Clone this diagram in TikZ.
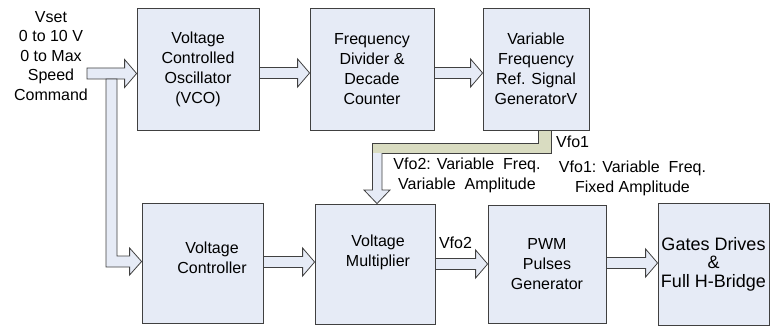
\documentclass[tikz,border=0pt]{standalone}
\usepackage{fontspec}
\setmainfont{Liberation Sans}
\usetikzlibrary{calc}
\definecolor{boxfill}{RGB}{230,235,246}
\definecolor{olivefill}{RGB}{217,220,193}
\definecolor{edge}{RGB}{64,64,64}
\tikzset{
 box/.style={draw=edge, line width=0.8pt, fill=boxfill, inner sep=0pt, align=center, font=\fontsize{16}{20}\selectfont},
 txt/.style={align=center, inner sep=0pt, font=\fontsize{16}{20}\selectfont},
 blk/.style={draw=edge, line width=0.8pt, fill=boxfill, line join=miter},
 oblk/.style={draw=edge, line width=0.8pt, fill=olivefill},
}
\newcommand\hblock[3]{\draw[blk] let \p1=(#1), \p2=(#2) in
 (\x1,#3+5.5) -- (\x2-12pt,#3+5.5) -- (\x2-12pt,#3+14) -- (\x2,#3) -- (\x2-12pt,#3-14) -- (\x2-12pt,#3-5.5) -- (\x1,#3-5.5) -- cycle;}
\begin{document}
\begin{tikzpicture}[x=1pt,y=1pt]
\useasboundingbox (0,0) rectangle (770,-326);
% top row
\node[box, minimum width=122, minimum height=122] (vco) at (198,-69) {Voltage\\Controlled\\Oscillator\\(VCO)};
\node[box, minimum width=124, minimum height=122] (fd) at (372,-69) {Frequency\\Divider \&\\Decade\\Counter};
\node[box, minimum width=106, minimum height=122] (vf) at (536,-69) {Variable\\Frequency\\Ref. Signal\\GeneratorV};
% bottom row
\node[box, minimum width=121, minimum height=120] (vc) at (202.5,-263) {};
\node[txt] (vctext) at (212,-258) {Voltage\\Controller};
\node[box, minimum width=120, minimum height=120] (vm) at (375,-264) {};
\node[txt] (vmtext) at (378,-252) {Voltage\\Multiplier};
\node[box, minimum width=118, minimum height=118] (pwm) at (547,-264) {PWM\\Pulses\\Generator};
\node[box, minimum width=111, minimum height=122, font=\fontsize{18}{18.5}\selectfont] (gd) at (713.5,-264) {Gates Drives\\\&\\Full H-Bridge};
% input label
\node[txt, font=\fontsize{16}{19.5}\selectfont] (vset) at (51,-56) {Vset\\0 to 10 V\\0 to Max\\Speed\\Command};
\coordinate (in) at (87,-73.5);
% horizontal block arrows
\hblock{in}{vco.west}{-73.5}
\hblock{vco.east}{fd.west}{-73}
\hblock{fd.east}{vf.west}{-73}
\hblock{vc.east}{vm.west}{-262}
\hblock{vm.east}{pwm.west}{-264}
\hblock{pwm.east}{gd.west}{-263}
% L-shaped arrow from input to voltage controller
\draw[blk] let \p1=(vc.west) in (106,-79) -- (117,-79) -- (117,-256) -- (\x1-12pt,-256) -- (\x1-12pt,-248) -- (\x1,-261.5) -- (\x1-12pt,-275) -- (\x1-12pt,-267) -- (106,-267) -- cycle;
% Vfo1 connector
\draw[oblk] let \p1=(vf.south) in (538,\y1) -- (551,\y1) -- (551,-153) -- (372,-153) -- (372,-143) -- (538,-143) -- cycle;
\draw[blk] let \p1=(vm.north) in (372.5,-153) -- (372.5,-190) -- (364,-190) -- (\x1+2pt,\y1) -- (390,-190) -- (382,-190) -- (382,-153);
% labels
\node[txt, anchor=west] (vfo1) at (556,-142) {Vfo1};
\node[txt] (vfo2lbl) at (467,-175) {Vfo2: Variable\ \ Freq.\\Variable\ \ Amplitude};
\node[txt] (vfo1lbl) at (632.5,-178) {Vfo1: Variable\ \ Freq.\\Fixed Amplitude};
\node[txt] (vfo2) at (455.5,-243) {Vfo2};
\end{tikzpicture}
\end{document}
